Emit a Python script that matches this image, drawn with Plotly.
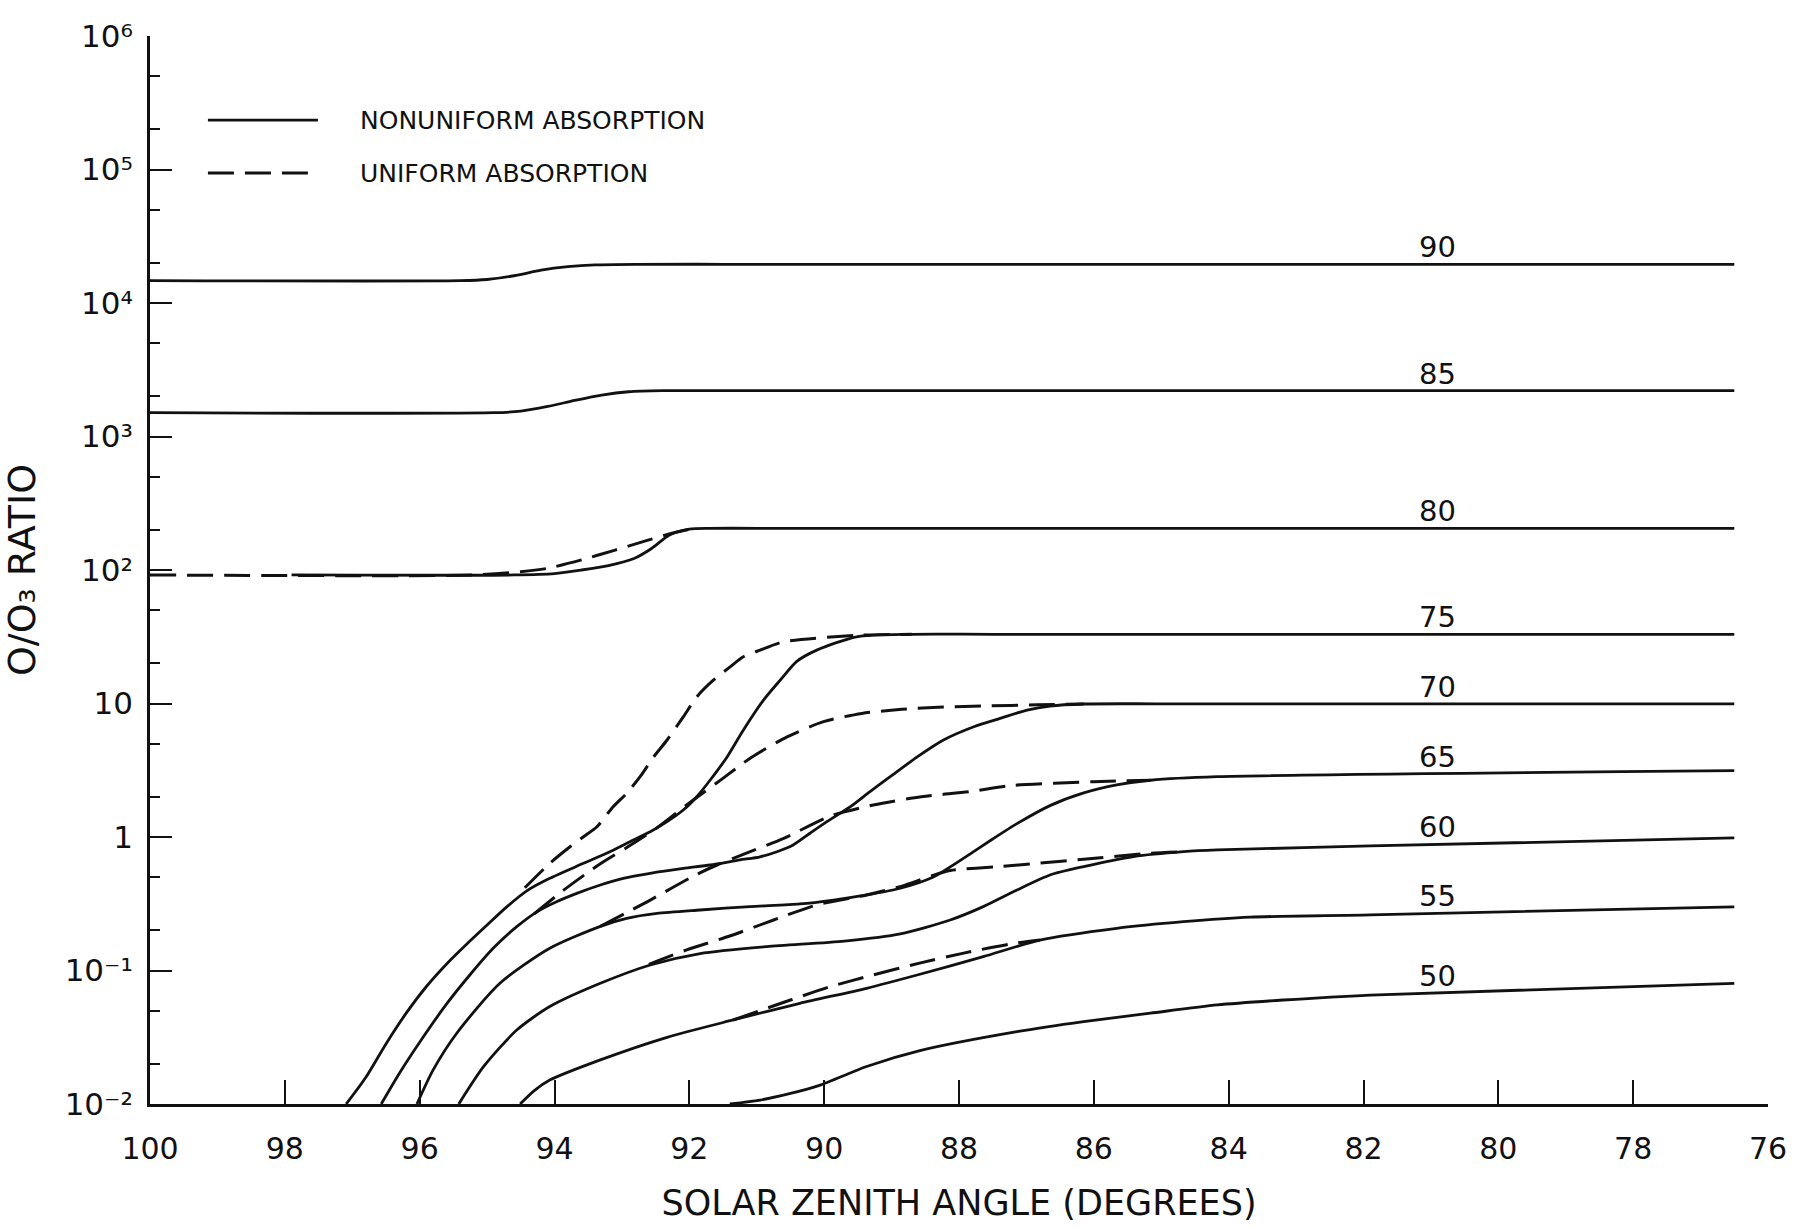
import numpy as np
import plotly.graph_objects as go

# ---------------- data (solar zenith angle in degrees, O/O3 ratio) ----------------
# Nonuniform absorption (solid curves), labelled by altitude
sza_n90 = [100, 95.4, 95.0, 94.6, 94.2, 93.8, 93.4, 92.8, 91.5, 76.5]
o_n90 = [1.47e4, 1.47e4, 1.50e4, 1.60e4, 1.76e4, 1.87e4, 1.93e4, 1.95e4, 1.95e4, 1.95e4]

sza_n85 = [100, 94.9, 94.5, 94.1, 93.7, 93.3, 92.9, 92.4, 91.0, 76.5]
o_n85 = [1507, 1507, 1549, 1679, 1862, 2042, 2163, 2203, 2203, 2203]

sza_n80 = [97.9, 94.6, 94.0, 93.6, 93.2, 92.82, 92.56, 92.3, 92.0, 91.7, 90.5, 76.5]
o_n80 = [91.8, 91.8, 94, 100, 108, 122, 145, 182, 202, 205, 205, 205]

sza_n75 = [97.09, 96.8, 96.5, 96.2, 95.9, 95.6, 95.3, 95.0, 94.7, 94.4, 94.07, 93.57,
           93.18, 92.83, 92.58, 92.33, 92.09, 91.89, 91.69, 91.44, 91.2, 90.9, 90.65,
           90.41, 90.11, 89.52, 88.7, 87.5, 76.5]
o_n75 = [0.01, 0.0158, 0.0282, 0.0479, 0.0759, 0.112, 0.158, 0.219, 0.302, 0.398, 0.490,
         0.635, 0.776, 0.951, 1.096, 1.303, 1.592, 2.004, 2.673, 3.98, 6.31, 10.6, 15.0,
         20.6, 25.1, 31.6, 33.0, 33.0, 33.0]

sza_n70 = [96.57, 96.3, 95.95, 95.6, 95.25, 94.91, 94.56, 94.26, 93.97, 93.67, 93.32,
           92.98, 92.58, 92.09, 91.69, 91.25, 90.95, 90.7, 90.46, 90.21, 89.96, 89.61,
           89.32, 89.02, 88.62, 88.23, 87.78, 87.39, 86.99, 86.65, 86.15, 85.0, 76.5]
o_n70 = [0.01, 0.017, 0.0316, 0.0562, 0.0933, 0.1466, 0.213, 0.275, 0.327, 0.378, 0.437,
         0.490, 0.535, 0.582, 0.617, 0.673, 0.711, 0.776, 0.871, 1.067, 1.303, 1.687,
         2.188, 2.83, 3.98, 5.33, 6.70, 7.74, 8.93, 9.57, 9.91, 9.95, 9.95]

sza_n65 = [96.04, 95.8, 95.45, 94.81, 94.07, 93.32, 92.93, 92.48, 91.84, 91.1, 90.36,
           89.86, 89.37, 88.87, 88.38, 88.1, 87.8, 87.5, 87.14, 86.65, 86.15, 85.66,
           85.16, 84.17, 76.5]
o_n65 = [0.01, 0.018, 0.0339, 0.0802, 0.1466, 0.214, 0.246, 0.268, 0.284, 0.301, 0.315,
         0.337, 0.368, 0.413, 0.501, 0.610, 0.767, 0.966, 1.259, 1.718, 2.138, 2.455,
         2.661, 2.83, 3.14]

sza_n60 = [95.42, 95.05, 94.56, 94.07, 93.32, 92.58, 91.84, 90.85, 89.7, 88.87, 88.13,
           87.64, 87.14, 86.65, 86.15, 85.41, 84.67, 84.17, 81.9, 76.5]
o_n60 = [0.01, 0.0191, 0.0358, 0.0537, 0.0802, 0.110, 0.134, 0.151, 0.166, 0.188, 0.239,
         0.301, 0.401, 0.519, 0.600, 0.713, 0.776, 0.800, 0.857, 0.984]

sza_n55 = [94.51, 94.3, 94.07, 93.32, 92.33, 91.35, 90.36, 89.37, 88.62, 87.64, 86.8,
           85.66, 84.67, 83.68, 81.9, 76.5]
o_n55 = [0.01, 0.0126, 0.0151, 0.0214, 0.0316, 0.0426, 0.0568, 0.0736, 0.0925, 0.127,
         0.169, 0.207, 0.232, 0.251, 0.261, 0.300]

sza_n50 = [91.4, 90.95, 90.5, 90.07, 89.37, 88.58, 87.14, 86.15, 85.16, 84.17, 83.19,
           81.9, 76.5]
o_n50 = [0.01, 0.0107, 0.012, 0.0138, 0.0191, 0.0251, 0.0348, 0.0414, 0.0479, 0.0552,
         0.0601, 0.0655, 0.0802]

# Uniform absorption (dashed curves)
sza_u80 = [100, 95.2, 94.5, 94.1, 93.6, 93.1, 92.6, 92.3, 92.0]
o_u80 = [91.8, 91.8, 97.1, 103, 119, 141, 168, 186, 202]

sza_u75 = [94.44, 94.07, 93.77, 93.57, 93.37, 93.13, 92.93, 92.73, 92.53, 92.33, 92.09,
           91.89, 91.64, 91.39, 91.2, 90.95, 90.6, 89.5, 88.7]
o_u75 = [0.417, 0.635, 0.845, 1.005, 1.194, 1.687, 2.123, 2.83, 3.98, 5.33, 7.94,
         11.2, 15.0, 18.9, 22.4, 25.1, 29.0, 32.4, 33.0]

sza_u70 = [94.3, 93.87, 93.32, 92.9, 92.46, 92.01, 91.57, 91.07, 90.55, 90.01, 89.44,
           88.85, 88.23, 87.63, 86.84, 86.15]
o_u70 = [0.266, 0.398, 0.631, 0.851, 1.194, 1.786, 2.594, 3.98, 5.62, 7.31, 8.43,
         9.04, 9.42, 9.57, 9.77, 9.91]

sza_u65 = [93.32, 92.58, 91.91, 91.59, 91.2, 90.6, 89.91, 89.27, 88.56, 87.83, 87.19,
           86.0, 85.16]
o_u65 = [0.214, 0.337, 0.519, 0.617, 0.741, 0.977, 1.435, 1.738, 2.004, 2.188, 2.438,
         2.594, 2.661]

sza_u60 = [92.6, 92.04, 91.39, 90.75, 90.11, 89.37, 88.8, 88.4, 88.13, 87.39, 86.84,
           86.15, 85.16, 84.67]
o_u60 = [0.111, 0.1426, 0.182, 0.239, 0.310, 0.368, 0.436, 0.513, 0.562, 0.600, 0.635,
         0.681, 0.755, 0.776]

sza_u55 = [91.35, 90.5, 89.91, 89.27, 88.6, 87.93, 87.24, 86.8]
o_u55 = [0.0426, 0.0601, 0.0757, 0.0927, 0.113, 0.135, 0.158, 0.169]

curve_labels = ["90", "85", "80", "75", "70", "65", "60", "55", "50"]
label_sza = 80.9

x_tick_vals = [100, 98, 96, 94, 92, 90, 88, 86, 84, 82, 80, 78, 76]
y_tick_vals = [1e-2, 1e-1, 1, 10, 1e2, 1e3, 1e4, 1e5, 1e6]
y_tick_text = ["10\u207b\u00b2", "10\u207b\u00b9", "1", "10", "10\u00b2",
               "10\u00b3", "10\u2074", "10\u2075", "10\u2076"]
y_minor_vals = [m * 10.0 ** e for e in range(-2, 6) for m in (2, 5)]

legend_labels = ["NONUNIFORM ABSORPTION", "UNIFORM ABSORPTION"]
x_title = "SOLAR ZENITH ANGLE (DEGREES)"
y_title = "O/O\u2083 RATIO"

solid_curves = [(sza_n90, o_n90), (sza_n85, o_n85), (sza_n80, o_n80), (sza_n75, o_n75),
                (sza_n70, o_n70), (sza_n65, o_n65), (sza_n60, o_n60), (sza_n55, o_n55),
                (sza_n50, o_n50)]
dashed_curves = [(sza_u80, o_u80), (sza_u75, o_u75), (sza_u70, o_u70), (sza_u65, o_u65),
                 (sza_u60, o_u60), (sza_u55, o_u55)]

FONT = "DejaVu Sans"
INK = "#111111"
DASH = "26px,11px"

fig = go.Figure()
for xs, ys in solid_curves:
    fig.add_trace(go.Scatter(x=xs, y=ys, mode="lines", showlegend=False,
                             line=dict(color=INK, width=2.8, shape="spline", smoothing=0.7)))
for xs, ys in dashed_curves:
    fig.add_trace(go.Scatter(x=xs, y=ys, mode="lines", showlegend=False,
                             line=dict(color=INK, width=3.0, dash=DASH,
                                       shape="spline", smoothing=0.7)))

# curve labels just above each solid curve
annotations = []
for lab, (xs, ys) in zip(curve_labels, solid_curves):
    ly = np.interp(label_sza, xs[::-1], np.log10(ys)[::-1])
    annotations.append(dict(x=label_sza, y=ly, xref="x", yref="y", text=lab,
                            showarrow=False, yshift=17,
                            font=dict(family=FONT, size=29, color=INK)))

# legend (drawn by hand to get long line samples)
leg_y = [0.9213, 0.8717]
for i, (lab, dash) in enumerate(zip(legend_labels, ["solid", DASH])):
    fig.add_shape(type="line", xref="paper", yref="paper", x0=0.0358, x1=0.1038,
                  y0=leg_y[i], y1=leg_y[i], line=dict(color=INK, width=2.8, dash=dash))
    annotations.append(dict(x=0.1286, y=leg_y[i], xref="paper", yref="paper", text=lab,
                            showarrow=False, xanchor="left", yanchor="middle",
                            font=dict(family=FONT, size=25, color=INK)))

fig.update_layout(
    width=1811, height=1228,
    margin=dict(l=150, r=43, t=36, b=124),
    paper_bgcolor="white", plot_bgcolor="white",
    showlegend=False,
    annotations=annotations,
    font=dict(family=FONT, color=INK),
    xaxis=dict(
        range=[100, 76], tickvals=x_tick_vals, ticks="inside", ticklen=24, tickwidth=2,
        tickcolor=INK, showline=True, linewidth=2.8, linecolor=INK, showgrid=False,
        zeroline=False, tickfont=dict(family=FONT, size=30, color=INK),
        ticklabelstandoff=16, automargin=False,
        title=dict(text=x_title, standoff=26,
                   font=dict(family=FONT, size=35, color=INK)),
    ),
    yaxis=dict(
        type="log", range=[-2, 6], tickvals=y_tick_vals, ticktext=y_tick_text,
        ticks="inside", ticklen=22, tickwidth=2, tickcolor=INK,
        showline=True, linewidth=2.8, linecolor=INK, showgrid=False, zeroline=False,
        tickfont=dict(family=FONT, size=31, color=INK), ticklabelstandoff=8,
        automargin=False,
        minor=dict(tickvals=y_minor_vals, ticks="inside", ticklen=10, tickwidth=2,
                   tickcolor=INK, showgrid=False),
        title=dict(text=y_title, standoff=26,
                   font=dict(family=FONT, size=38, color=INK)),
    ),
)

fig.write_html("out.html")
